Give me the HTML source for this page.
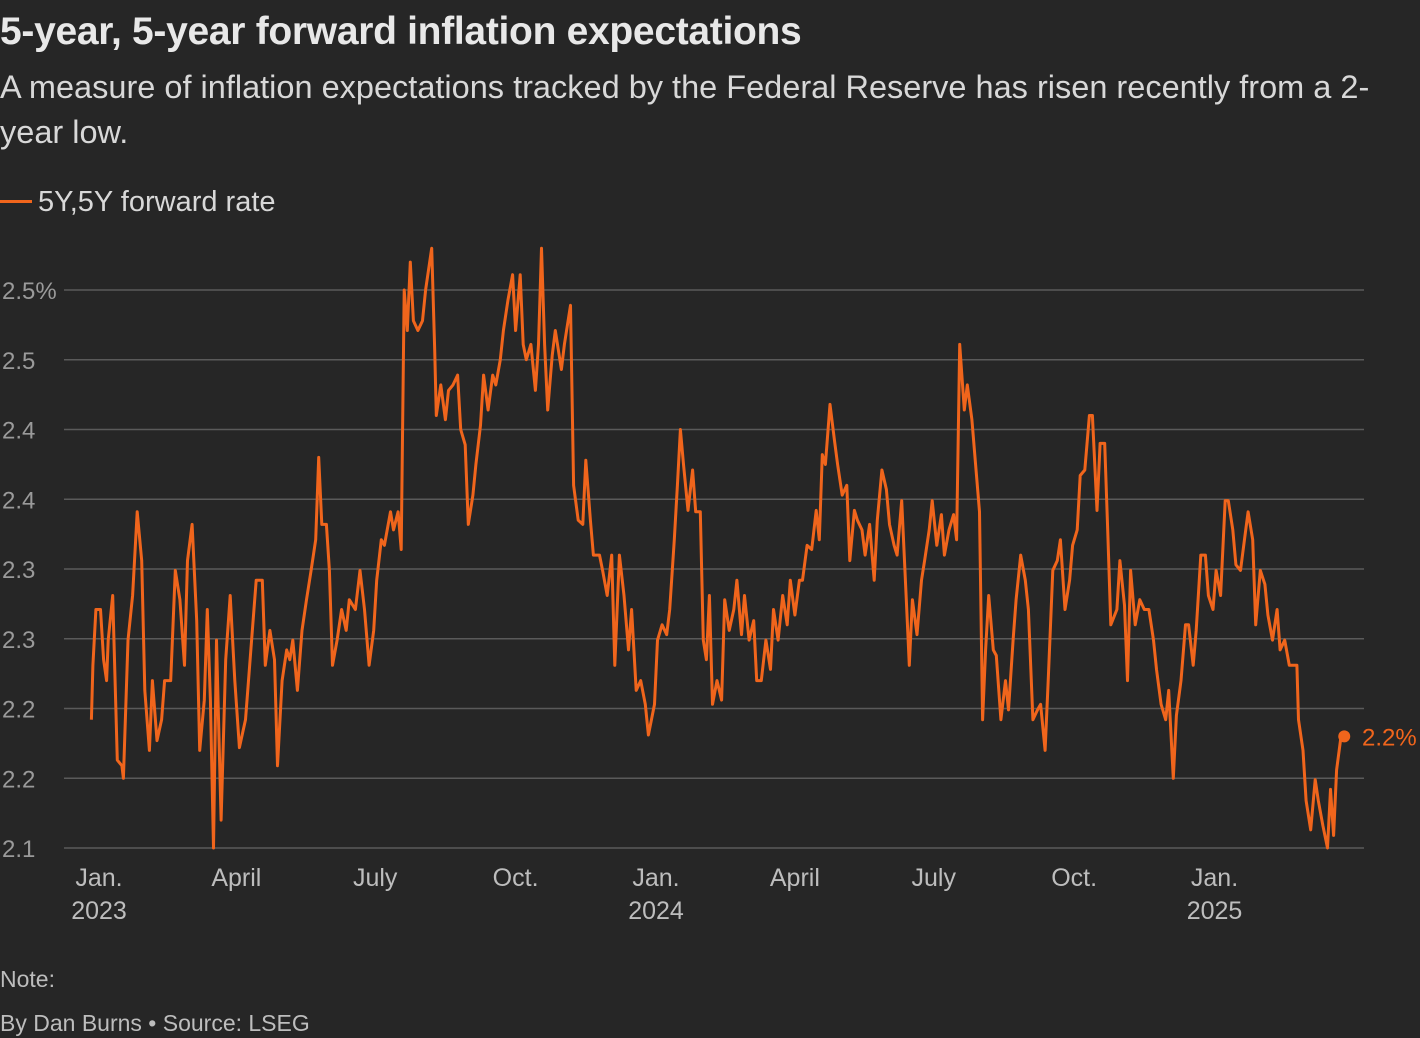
<!DOCTYPE html>
<html><head><meta charset="utf-8">
<style>
html,body{margin:0;padding:0;background:#262626;}
body{width:1420px;height:1038px;overflow:hidden;position:relative;font-family:"Liberation Sans",sans-serif;color:#e6e6e6;}
#title{position:absolute;left:0;top:10px;font-size:39px;font-weight:bold;color:#e8e8e8;letter-spacing:-0.3px;white-space:nowrap;}
#sub{position:absolute;left:0;top:65px;width:1420px;font-size:32.5px;line-height:45px;color:#d8d8d8;white-space:nowrap;}
#legend{position:absolute;left:0;top:186px;font-size:29px;color:#d8d8d8;}
#legend span.sw{display:inline-block;width:32px;height:3px;background:#f0651c;vertical-align:middle;margin-right:6px;position:relative;top:-2px;}
#note{position:absolute;left:0;top:966px;font-size:23px;color:#bdbdbd;}
#by{position:absolute;left:0;top:1010px;font-size:23px;color:#bdbdbd;}
svg{position:absolute;left:0;top:0;}
</style></head><body>
<div id="title">5-year, 5-year forward inflation expectations</div>
<div id="sub">A measure of inflation expectations tracked by the Federal Reserve has risen recently from a 2-<br>year low.</div>
<div id="legend"><span class="sw"></span>5Y,5Y forward rate</div>
<svg id="chart" width="1420" height="1038"></svg>
<div id="note">Note:</div>
<div id="by">By Dan Burns • Source: LSEG</div>
<script>
const days=[-5,-4,-2,1,3,5,6,9,12,15,16,19,22,25,28,30,33,35,38,41,43,47,50,53,56,58,61,64,66,69,71,73,75,77,80,83,86,89,92,96,100,103,107,109,112,115,117,120,123,125,127,130,133,136,139,142,144,146,149,151,153,156,159,162,164,168,171,174,177,180,182,185,187,191,193,196,198,200,202,204,206,209,212,214,218,220,221,224,227,229,232,235,237,240,242,245,247,250,252,255,258,260,263,265,268,271,273,276,278,280,283,286,288,290,292,294,297,299,303,305,309,311,314,317,319,322,324,328,330,333,336,338,341,344,347,349,352,355,358,360,364,366,369,372,374,377,379,381,383,386,389,391,394,396,398,400,402,405,408,410,413,416,418,421,423,426,429,431,434,437,440,442,445,448,451,453,456,459,461,464,467,470,472,474,476,479,482,484,487,490,492,495,497,500,502,505,508,510,513,516,518,521,523,526,529,531,533,536,539,541,544,546,549,552,554,557,560,562,564,567,569,572,575,577,579,581,583,586,588,591,594,596,599,601,604,607,609,612,615,617,620,622,625,628,630,633,636,638,641,643,646,649,651,654,656,659,661,663,667,669,672,674,676,679,682,685,688,691,693,696,699,701,704,706,709,712,714,717,719,722,725,727,730,732,735,738,740,743,745,748,751,753,756,758,761,764,766,769,772,774,777,780,782,785,786,789,791,794,797,799,802,805,807,809,811,814,816];
const values=[2.192,2.231,2.271,2.271,2.235,2.220,2.249,2.281,2.163,2.159,2.150,2.249,2.281,2.341,2.306,2.213,2.170,2.220,2.177,2.192,2.220,2.220,2.299,2.278,2.231,2.306,2.332,2.263,2.170,2.206,2.271,2.206,2.100,2.249,2.120,2.235,2.281,2.220,2.172,2.192,2.249,2.292,2.292,2.231,2.256,2.235,2.159,2.220,2.242,2.235,2.249,2.213,2.256,2.278,2.299,2.321,2.380,2.332,2.332,2.299,2.231,2.249,2.271,2.256,2.278,2.271,2.299,2.271,2.231,2.256,2.292,2.321,2.317,2.341,2.328,2.341,2.314,2.500,2.471,2.520,2.478,2.471,2.478,2.500,2.530,2.457,2.410,2.432,2.407,2.428,2.432,2.439,2.400,2.389,2.332,2.353,2.375,2.403,2.439,2.414,2.439,2.432,2.450,2.471,2.493,2.511,2.471,2.511,2.461,2.450,2.461,2.428,2.461,2.530,2.461,2.414,2.453,2.471,2.443,2.461,2.489,2.360,2.335,2.332,2.378,2.335,2.310,2.310,2.299,2.281,2.310,2.231,2.310,2.281,2.242,2.271,2.213,2.220,2.203,2.181,2.203,2.249,2.260,2.253,2.271,2.321,2.360,2.400,2.375,2.342,2.371,2.341,2.341,2.249,2.235,2.281,2.203,2.220,2.206,2.278,2.256,2.271,2.292,2.253,2.281,2.249,2.263,2.220,2.220,2.249,2.228,2.271,2.249,2.281,2.260,2.292,2.267,2.292,2.292,2.317,2.314,2.342,2.321,2.382,2.375,2.418,2.392,2.375,2.353,2.360,2.306,2.342,2.335,2.328,2.310,2.332,2.292,2.335,2.371,2.357,2.332,2.317,2.310,2.349,2.278,2.231,2.278,2.253,2.292,2.306,2.328,2.349,2.317,2.339,2.310,2.328,2.339,2.321,2.461,2.414,2.432,2.407,2.367,2.341,2.192,2.242,2.281,2.242,2.238,2.192,2.220,2.199,2.249,2.278,2.310,2.292,2.271,2.192,2.199,2.203,2.170,2.220,2.299,2.306,2.321,2.271,2.292,2.317,2.328,2.367,2.371,2.410,2.410,2.342,2.390,2.390,2.328,2.260,2.271,2.306,2.274,2.220,2.299,2.260,2.278,2.271,2.271,2.249,2.228,2.203,2.192,2.213,2.150,2.195,2.220,2.260,2.260,2.231,2.256,2.310,2.310,2.281,2.271,2.299,2.281,2.349,2.349,2.328,2.303,2.299,2.324,2.341,2.321,2.260,2.299,2.289,2.267,2.249,2.271,2.242,2.249,2.231,2.231,2.231,2.192,2.170,2.134,2.113,2.149,2.134,2.116,2.100,2.142,2.109,2.156,2.181,2.180];
const yTicks=[2.10,2.15,2.20,2.25,2.30,2.35,2.40,2.45,2.50];
const yTickLabels=["2.1","2.2","2.2","2.3","2.3","2.4","2.4","2.5","2.5%"];
const xTickDays=[0,90,181,273,365,456,547,639,731];
const xTickLabels=[["Jan.","2023"],["April"],["July"],["Oct."],["Jan.","2024"],["April"],["July"],["Oct."],["Jan.","2025"]];
const endLabel="2.2%";

const NS="http://www.w3.org/2000/svg";
const svg=document.getElementById('chart');
const x=d=>99+(d)*(557/365);
const y=v=>848-(v-2.1)*(558/0.4);
function mk(t,a){const e=document.createElementNS(NS,t);for(const k in a)e.setAttribute(k,a[k]);svg.appendChild(e);return e;}
yTicks.forEach((v,i)=>{
  const g=mk('line',{x1:64,x2:1364,y1:y(v),y2:y(v),stroke:'#5a5a5a','stroke-width':1.5});
  
  
  const t=mk('text',{x:2,y:y(v)+9,fill:'#9a9a9a','font-size':24,'font-family':'Liberation Sans, sans-serif'});
  t.textContent=yTickLabels[i];
  
  
});
xTickDays.forEach((d,i)=>{
  xTickLabels[i].forEach((s,j)=>{
    const t=mk('text',{x:x(d),y:886+j*33,fill:'#bdbdbd','font-size':25,'text-anchor':'middle','font-family':'Liberation Sans, sans-serif'});
    t.textContent=s;
    
    
  });
});
const pts=days.map((d,i)=>x(d).toFixed(1)+','+y(values[i]).toFixed(1)).join(' ');
const line=mk('polyline',{points:pts,fill:'none',stroke:'#f0651c','stroke-width':3,'stroke-linejoin':'round'});


const n=days.length-1;
const dot=mk('circle',{cx:x(days[n]),cy:y(values[n]),r:6,fill:'#f0651c'});


const el=mk('text',{x:1362,y:y(values[n])+9,fill:'#f0651c','font-size':24,'font-family':'Liberation Sans, sans-serif'});
el.textContent=endLabel;


</script>
</body></html>
